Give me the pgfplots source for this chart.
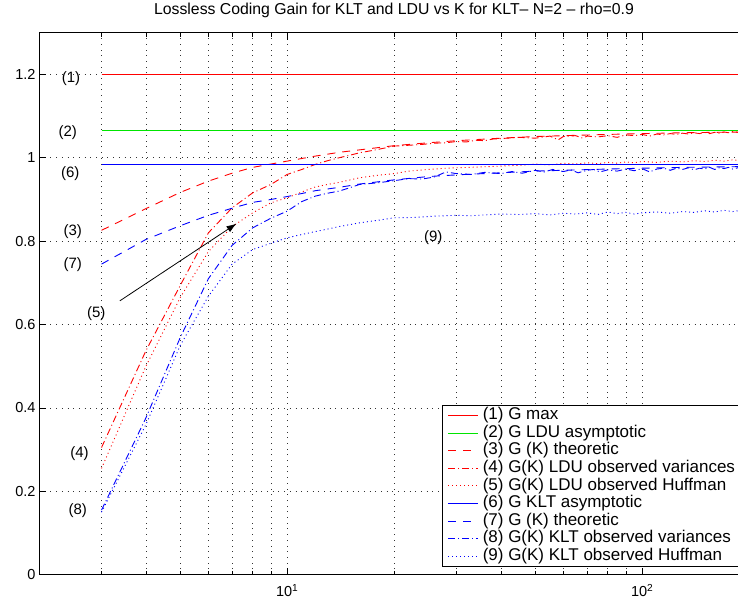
\documentclass[border=0pt]{standalone}
\usepackage{fontspec}
\setmainfont{Liberation Sans}
\usepackage{pgfplots}
\pgfplotsset{compat=1.18}
\usetikzlibrary{arrows.meta}

\begin{document}
\begin{tikzpicture}
\begin{axis}[
  scale only axis,
  width=710pt, height=542pt,
  xmode=log,
  xmin=2, xmax=200, ymin=0, ymax=1.3,
  xtick={10,100},
  xticklabels={10\textsuperscript{1},10\textsuperscript{2}},
  minor xtick={3,4,5,6,7,8,9,20,30,40,50,60,70,80,90},
  ytick={0,0.2,0.4,0.6,0.8,1,1.2},
  yticklabels={0,0.2,0.4,0.6,0.8,1,1.2},
  xmajorgrids, xminorgrids, ymajorgrids,
  grid style={black!80, line width=0.7pt, dash pattern=on 0.7pt off 5pt},
  minor grid style={black!80, line width=0.7pt, dash pattern=on 0.7pt off 5pt},
  tick align=inside,
  major tick length=7pt, minor tick length=4pt,
  every tick/.style={black, line width=0.7pt},
  axis line style={black, line width=0.8pt},
  tick label style={font=\fontsize{14.5}{16}\selectfont},
  xticklabel style={yshift=-6pt},
  title={Lossless Coding Gain for KLT and LDU vs K for KLT\textendash{} N=2 \textendash{} rho=0.9},
  title style={at={(0.5,1)}, anchor=base, yshift=12pt, inner sep=0pt, font=\fontsize{15.8}{18}\selectfont},
  legend style={at={(0.568,0.313)}, anchor=north west, draw=black, fill=white,
    line width=0.8pt,
    font=\fontsize{17}{19}\selectfont, inner xsep=5pt, inner ysep=1.2pt, row sep=0pt,
    cells={anchor=west},
    nodes={inner xsep=4pt, inner ysep=1pt, text height=12pt, text depth=3.6pt}},
  legend image code/.code={\draw[#1, line width=1.1pt] (0pt,0pt) -- (30pt,0pt);},
  every axis plot/.append style={line width=0.9pt},
]
% (1) G max
\addplot[draw=red, color=red, solid] coordinates {(3,1.2) (200,1.2)};
\addlegendentry{(1) G max}
% (2) G LDU asymptotic
\addplot[draw=green!90!black, color=green!90!black, solid] coordinates {(3,1.0655) (200,1.0655)};
\addlegendentry{(2) G LDU asymptotic}
% (3) G(K) theoretic LDU
\addplot[draw=red, color=red, dash pattern=on 8pt off 7pt] coordinates {
(3,0.826)(4,0.878)(5,0.917)(6,0.944)(7,0.963)(8,0.977)(9,0.985)(10,0.992)(12,1.004)(14,1.013)(16,1.019)(20,1.029)(25,1.036)(30,1.041)(40,1.047)(50,1.051)(60,1.053)(80,1.056)(100,1.058)(130,1.060)(160,1.061)(200,1.062)};
\addlegendentry{(3) G (K) theoretic}
% (4) LDU observed variances
\addplot[draw=red, color=red, dash pattern=on 7pt off 3pt on 1pt off 3pt] coordinates {
(3,0.305)(4,0.537)(5,0.694)(6,0.820)(7,0.880)(8,0.916)(9,0.936)(10,0.960)(11,0.972)(12,0.984)(13,0.993)(14,1.000)(15,1.006)(16,1.012)(17,1.016)(18,1.020)(19,1.024)(20,1.028)(22,1.030)(24,1.032)(26,1.035)(28,1.036)(30,1.039)(32,1.038)(34,1.042)(36,1.041)(38,1.045)(40,1.046)(45,1.049)(50,1.047)(55,1.052)(58,1.043)(60,1.051)(65,1.053)(68,1.047)(70,1.052)(75,1.050)(80,1.053)(85,1.049)(90,1.055)(95,1.053)(100,1.056)(105,1.052)(110,1.057)(115,1.055)(120,1.058)(125,1.056)(130,1.059)(135,1.057)(140,1.060)(145,1.058)(150,1.061)(155,1.058)(160,1.061)(165,1.059)(170,1.062)(175,1.060)(180,1.063)(186,1.061)(193,1.062)(200,1.060)};
\addlegendentry{(4) G(K) LDU observed variances}
% (5) LDU observed Huffman
\addplot[draw=red, color=red, dash pattern=on 1pt off 3pt] coordinates {
(3,0.255)(4,0.500)(5,0.665)(6,0.775)(7,0.835)(8,0.868)(9,0.892)(10,0.904)(11,0.918)(12,0.930)(13,0.936)(14,0.941)(16,0.952)(18,0.958)(20,0.962)(22,0.968)(25,0.972)(28,0.975)(30,0.976)(35,0.978)(40,0.980)(45,0.982)(50,0.985)(55,0.983)(60,0.987)(65,0.985)(70,0.988)(75,0.986)(80,0.989)(85,0.987)(90,0.990)(95,0.988)(100,0.991)(110,0.989)(120,0.992)(130,0.990)(140,0.993)(150,0.991)(160,0.994)(170,0.992)(180,0.995)(190,0.993)(200,0.996)};
\addlegendentry{(5) G(K) LDU observed Huffman}
% (6) G KLT asymptotic
\addplot[draw=blue, color=blue, solid] coordinates {(3,0.983) (200,0.983)};
\addlegendentry{(6) G KLT asymptotic}
% (7) G(K) theoretic KLT
\addplot[draw=blue, color=blue, dash pattern=on 8pt off 7pt] coordinates {
(3,0.745)(4,0.804)(5,0.837)(6,0.862)(7,0.879)(8,0.893)(9,0.900)(10,0.907)(12,0.921)(14,0.929)(16,0.937)(20,0.947)(25,0.955)(30,0.959)(40,0.964)(50,0.968)(60,0.970)(80,0.973)(100,0.975)(130,0.977)(160,0.978)(200,0.979)};
\addlegendentry{(7) G (K) theoretic}
% (8) KLT observed variances
\addplot[draw=blue, color=blue, dash pattern=on 7pt off 3pt on 1pt off 3pt] coordinates {
(3,0.155)(4,0.376)(5,0.569)(6,0.710)(7,0.790)(8,0.832)(9,0.855)(10,0.872)(11,0.895)(12,0.908)(13,0.915)(14,0.920)(15,0.928)(16,0.936)(18,0.940)(20,0.945)(22,0.950)(24,0.949)(26,0.954)(28,0.966)(30,0.962)(33,0.960)(36,0.965)(40,0.962)(43,0.967)(46,0.963)(50,0.970)(53,0.966)(56,0.972)(60,0.967)(63,0.971)(66,0.964)(70,0.970)(73,0.972)(76,0.966)(80,0.971)(85,0.968)(90,0.973)(95,0.969)(100,0.974)(105,0.966)(110,0.973)(115,0.975)(120,0.970)(125,0.975)(130,0.972)(135,0.976)(140,0.971)(145,0.975)(150,0.973)(155,0.977)(160,0.972)(165,0.976)(170,0.974)(175,0.977)(180,0.973)(186,0.976)(193,0.974)(200,0.977)};
\addlegendentry{(8) G(K) KLT observed variances}
% (9) KLT observed Huffman
\addplot[draw=blue, color=blue, dash pattern=on 1pt off 3pt] coordinates {
(3,0.150)(4,0.360)(5,0.550)(6,0.668)(7,0.745)(8,0.780)(9,0.795)(10,0.808)(11,0.816)(12,0.823)(13,0.829)(14,0.835)(16,0.844)(18,0.850)(20,0.856)(23,0.857)(26,0.860)(30,0.862)(33,0.861)(36,0.863)(40,0.865)(45,0.864)(50,0.866)(55,0.863)(60,0.867)(65,0.865)(70,0.868)(75,0.864)(80,0.870)(85,0.866)(90,0.869)(95,0.865)(100,0.868)(110,0.870)(120,0.867)(130,0.871)(140,0.869)(150,0.873)(160,0.870)(170,0.874)(180,0.871)(190,0.874)(200,0.872)};
\addlegendentry{(9) G(K) KLT observed Huffman}

\draw[black, line width=0.8pt, -{Latex[length=10pt,width=7pt]}] (axis cs:3.38,0.657) -- (axis cs:7.2,0.842);

\begin{scope}[every node/.style={font=\fontsize{15}{17}\selectfont, inner sep=0pt}]
\node at (axis cs:2.46,1.191) {(1)};
\node at (axis cs:2.41,1.061) {(2)};
\node at (axis cs:2.45,0.963) {(6)};
\node at (axis cs:2.49,0.823) {(3)};
\node at (axis cs:2.49,0.743) {(7)};
\node at (axis cs:2.90,0.627) {(5)};
\node at (axis cs:2.60,0.290) {(4)};
\node at (axis cs:2.57,0.154) {(8)};
\node at (axis cs:25.8,0.809) {(9)};
\end{scope}
\end{axis}
\pgfresetboundingbox
\path[use as bounding box] (-39pt,-28.3pt) rectangle (699pt,574.7pt);
\end{tikzpicture}
\end{document}
